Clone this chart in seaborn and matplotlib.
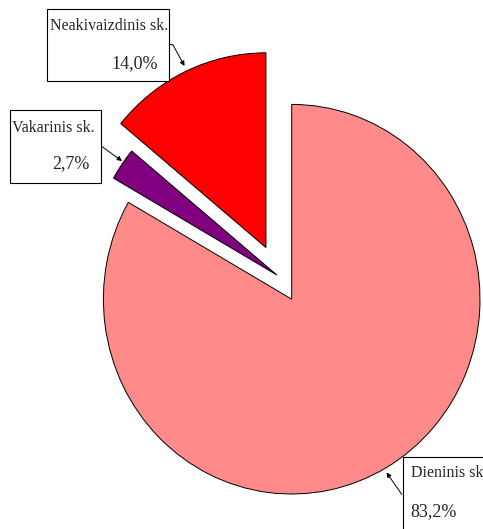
import matplotlib
matplotlib.use("Agg")
import matplotlib.pyplot as plt
from matplotlib.patches import Rectangle
import numpy as np
import seaborn as sns

# Data
categories = ["Dieninis sk.", "Vakarinis sk.", "Neakivaizdinis sk."]
label_names = ["Dieninis sk", "Vakarinis sk.", "Neakivaizdinis sk."]
shares = [83.2, 2.7, 14.0]
pct_labels = ["83,2%", "2,7%", "14,0%"]
colors = ["#ff8a8a", "#800080", "#ff0000"]
# pull-out distance (radius units) and direction (degrees) of each slice
explode = [0.0, 0.147, 0.298]
explode_dir = [0.0, 122.4, 117.3]

sns.set_theme(style="white")
plt.rcParams["font.family"] = ["Liberation Serif", "DejaVu Serif"]

W, H = 483, 529
fig = plt.figure(figsize=(W / 100, H / 100), dpi=100)
fig.patch.set_facecolor("white")

# pie geometry (pixels): centre (291.7, 299.2), rx 188.3, ry 194.8
cx, cy, rx, ry = 291.7, 299.2, 188.3, 194.8
ax = fig.add_axes([0, 0, 1, 1])
wedges, _ = ax.pie(shares, colors=colors, startangle=90,
                   counterclock=False,
                   wedgeprops=dict(edgecolor="black", linewidth=0.7))
for w, d, a in zip(wedges, explode, explode_dir):
    t = np.deg2rad(a)
    w.set_center((d * np.cos(t), d * np.sin(t)))
ax.set_aspect("auto")
ax.set_xlim((0 - cx) / rx, (W - cx) / rx)
ax.set_ylim((cy - H) / ry, cy / ry)
ax.axis("off")


def fp(x, y):
    return (x / W, 1 - y / H)


def box(x0, y0, x1, y1):
    fig.patches.append(Rectangle(fp(x0, y1), (x1 - x0) / W, (y1 - y0) / H,
                                 transform=fig.transFigure, fill=True,
                                 facecolor="white", edgecolor="black",
                                 linewidth=0.8, zorder=5))


name_fs = 11.5
pct_fs = 13

# Neakivaizdinis
box(46.7, 9, 169, 81)
fig.text(*fp(50, 30), label_names[2], fontsize=name_fs, ha="left",
         va="baseline", zorder=6)
fig.text(*fp(158, 68), pct_labels[2], fontsize=pct_fs, ha="right",
         va="baseline", zorder=6)
fig.add_artist(plt.Line2D([169 / W, 173 / W], [1 - 44 / H, 1 - 45 / H],
                          color="black", lw=0.7, transform=fig.transFigure))
ax.annotate("", xy=fp(184.5, 66), xytext=fp(173, 45),
            xycoords="figure fraction", textcoords="figure fraction",
            arrowprops=dict(arrowstyle="-|>", color="black", lw=0.7,
                            mutation_scale=7, shrinkA=0, shrinkB=0))

# Vakarinis
box(10, 110, 100.7, 182.7)
fig.text(*fp(11.7, 131.7), label_names[1], fontsize=name_fs, ha="left",
         va="baseline", zorder=6)
fig.text(*fp(89.5, 168), pct_labels[1], fontsize=pct_fs, ha="right",
         va="baseline", zorder=6)
ax.annotate("", xy=fp(122, 161), xytext=fp(100.7, 145.7),
            xycoords="figure fraction", textcoords="figure fraction",
            arrowprops=dict(arrowstyle="-|>", color="black", lw=0.7,
                            mutation_scale=7, shrinkA=0, shrinkB=0))

# Dieninis
box(402.7, 457.3, 490, 540)
fig.text(*fp(410.7, 477.3), label_names[0], fontsize=name_fs, ha="left",
         va="baseline", zorder=6)
fig.text(*fp(410.7, 516), pct_labels[0], fontsize=pct_fs, ha="left",
         va="baseline", zorder=6)
ax.annotate("", xy=fp(386.5, 472.5), xytext=fp(401.7, 494.3),
            xycoords="figure fraction", textcoords="figure fraction",
            arrowprops=dict(arrowstyle="-|>", color="black", lw=0.7,
                            mutation_scale=7, shrinkA=0, shrinkB=0))

fig.savefig("out.png", dpi=100, facecolor="white")
